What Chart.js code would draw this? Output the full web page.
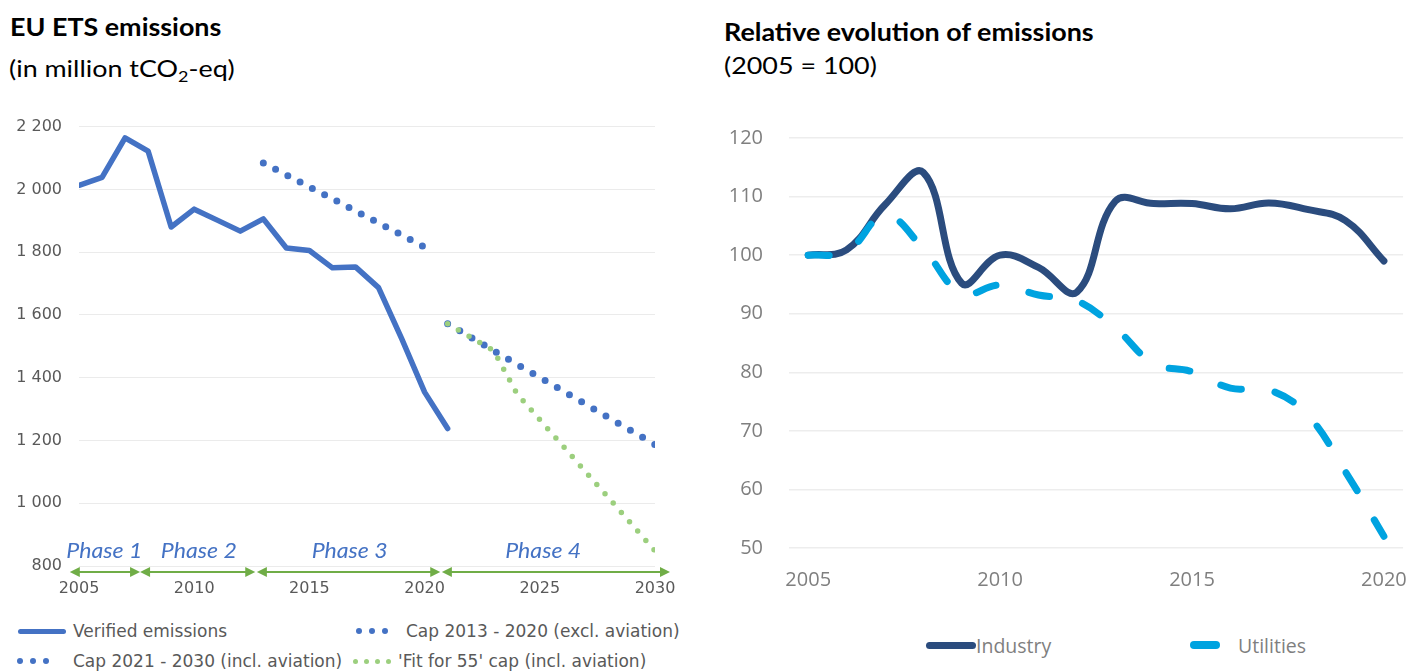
<!DOCTYPE html>
<html>
<head>
<meta charset="utf-8">
<script src="https://cdn.jsdelivr.net/npm/chart.js@4.4.1/dist/chart.umd.min.js"></script>
<style>
  html, body { margin: 0; padding: 0; background: #fff; }
  body { width: 1427px; height: 671px; position: relative; overflow: hidden; }
  .t { position: absolute; font-family: Lato, "Open Sans", sans-serif; font-size: 24px; line-height: 24px; color: #000;
       white-space: nowrap; transform: scaleX(1.12); transform-origin: 0 0; }
  .t b { font-weight: 700; }
  .t sub { font-size: 16px; vertical-align: -5px; line-height: 0; }
  canvas { position: absolute; }
  .lg { position: absolute; white-space: nowrap; display: flex; align-items: center; height: 20px; }
  .lgl { font-family: "DejaVu Sans", sans-serif; font-size: 17px; color: #595959; }
  .lgr { font-family: "Open Sans", sans-serif; font-size: 19.5px; color: #7f7f7f; }
  .sym { position: absolute; }
  .dot { position: absolute; border-radius: 50%; }
</style>
</head>
<body>
  <div class="t" style="left:10px;top:15px"><b>EU ETS emissions</b></div>
  <div class="t" style="left:9px;top:56px">(in million tCO<sub>2</sub>-eq)</div>
  <div class="t" style="left:724px;top:20px"><b>Relative evolution of emissions</b></div>
  <div class="t" style="left:724px;top:53px">(2005 = 100)</div>

  <canvas id="ets" width="700" height="520" style="left:0;top:100px;width:700px;height:520px"></canvas>
  <canvas id="rel" width="727" height="520" style="left:700px;top:100px;width:727px;height:520px"></canvas>

  <div id="legendLeft"></div>
  <div id="legendRight"></div>

<script>
// EU ETS emissions (million tCO2-eq)
const emissionYears = [2005, 2006, 2007, 2008, 2009, 2010, 2011, 2012, 2013, 2014, 2015, 2016, 2017, 2018, 2019, 2020, 2021];
const verifiedEmissions = [2013, 2038, 2164, 2122, 1880, 1937, 1902, 1867, 1906, 1813, 1805, 1750, 1753, 1687, 1525, 1354, 1238];

const cap1Years = [2013, 2014, 2015, 2016, 2017, 2018, 2019, 2020];
const cap1Values = [2084, 2046, 2008, 1970, 1931, 1893, 1855, 1816];

const cap2Years = [2021, 2022, 2023, 2024, 2025, 2026, 2027, 2028, 2029, 2030];
const cap2Values = [1572, 1529, 1486, 1443, 1401, 1358, 1315, 1272, 1230, 1187];

const fit55Years = [2021, 2022, 2023, 2024, 2025, 2026, 2027, 2028, 2029, 2030];
const fit55Values = [1572, 1529, 1486, 1350, 1266, 1183, 1099, 1016, 932, 848];

const etsTickYears = [2005, 2010, 2015, 2020, 2025, 2030];

// Trading phases along the time axis
const phaseNames = ['Phase 1', 'Phase 2', 'Phase 3', 'Phase 4'];
const phaseStarts = [2004.6, 2007.65, 2012.72, 2020.75];
const phaseEnds = [2007.65, 2012.65, 2020.68, 2030.65];
const phaseLabelAt = [2006.1, 2010.2, 2016.75, 2025.15];

// Relative evolution (2005 = 100)
const relYears = [2005, 2006, 2007, 2008, 2009, 2010, 2011, 2012, 2013, 2014, 2015, 2016, 2017, 2018, 2019, 2020];
const industryIndex = [100, 100.9, 108.6, 114.1, 95.2, 100, 97.9, 93.7, 109.2, 108.8, 108.8, 107.9, 108.9, 107.8, 105.9, 99];
const utilitiesIndex = [100, 100.6, 106.8, 101.1, 93.5, 94.9, 93.2, 92.2, 87.6, 81.5, 80.1, 77.3, 77.0, 72.8, 63.0, 52];
const relLabels = ['Industry', 'Utilities'];

const BLUE = '#4472C4';
const GREEN_DOT = '#9ccf7e';
const NAVY = '#2b4c7e';
const CYAN = '#00a3e0';

const pts = (xs, ys) => xs.map((x, i) => ({ x, y: ys[i] }));
const spaced = v => String(v).replace(/\B(?=(\d{3})+(?!\d))/g, ' ');

const phasePlugin = {
  id: 'phases',
  afterDatasetsDraw(chart) {
    const { ctx, chartArea, scales } = chart;
    const x = scales.x;
    const y = chartArea.bottom + 6;
    ctx.save();
    phaseNames.forEach((name, i) => {
      const x0 = x.getPixelForValue(phaseStarts[i]);
      const x1 = x.getPixelForValue(phaseEnds[i]);
      ctx.strokeStyle = '#70ad47';
      ctx.fillStyle = '#70ad47';
      ctx.lineWidth = 2;
      ctx.beginPath();
      ctx.moveTo(x0 + 6, y);
      ctx.lineTo(x1 - 6, y);
      ctx.stroke();
      ctx.beginPath();
      ctx.moveTo(x0, y); ctx.lineTo(x0 + 10, y - 5); ctx.lineTo(x0 + 10, y + 5); ctx.closePath();
      ctx.fill();
      ctx.beginPath();
      ctx.moveTo(x1, y); ctx.lineTo(x1 - 10, y - 5); ctx.lineTo(x1 - 10, y + 5); ctx.closePath();
      ctx.fill();
      ctx.save();
      ctx.translate(x.getPixelForValue(phaseLabelAt[i]), chartArea.bottom - 8);
      ctx.scale(1.1, 1);
      ctx.fillStyle = BLUE;
      ctx.font = 'italic 21px Lato';
      ctx.textAlign = 'center';
      ctx.textBaseline = 'alphabetic';
      ctx.fillText(name, 0, 0);
      ctx.restore();
    });
    ctx.restore();
  }
};

const dotted = (color, width, gap) => ({
  borderColor: color, backgroundColor: color, borderWidth: width,
  borderDash: [0, gap], borderCapStyle: 'round', pointRadius: 0, tension: 0, fill: false
});

const tickFontLeft = { family: 'DejaVu Sans', size: 16 };

new Chart(document.getElementById('ets'), {
  type: 'line',
  data: {
    datasets: [
      { label: 'Verified emissions', data: pts(emissionYears, verifiedEmissions), borderColor: BLUE, backgroundColor: BLUE,
        borderWidth: 5.5, pointRadius: 0, tension: 0, borderJoinStyle: 'round', borderCapStyle: 'round', order: 3 },
      Object.assign({ label: 'Cap 2013 - 2020 (excl. aviation)', data: pts(cap1Years, cap1Values), order: 2 }, dotted(BLUE, 7, 13.8)),
      Object.assign({ label: 'Cap 2021 - 2030 (incl. aviation)', data: pts(cap2Years, cap2Values), order: 1 }, dotted(BLUE, 7, 14.1)),
      Object.assign({ label: "'Fit for 55' cap (incl. aviation)", data: pts(fit55Years, fit55Values), order: 0 }, dotted(GREEN_DOT, 5.5, 12.4))
    ]
  },
  options: {
    responsive: false, animation: false, devicePixelRatio: 1,
    layout: { padding: { top: 23, right: 45, bottom: 14, left: 0 } },
    plugins: { legend: { display: false }, tooltip: { enabled: false } },
    scales: {
      x: {
        type: 'linear', min: etsTickYears[0], max: etsTickYears[etsTickYears.length - 1],
        grid: { display: false, drawTicks: false }, border: { display: false },
        afterBuildTicks: s => { s.ticks = etsTickYears.map(v => ({ value: v })); },
        ticks: { padding: 13, color: '#595959', font: tickFontLeft, callback: v => String(v) },
        afterFit: s => { s.height = 40; }
      },
      y: {
        min: 800, max: 2200,
        grid: { color: '#ebebeb', lineWidth: 1, drawTicks: false }, border: { display: false },
        ticks: { stepSize: 200, padding: 17, color: '#595959', font: tickFontLeft, callback: v => spaced(v) },
        afterFit: s => { s.width = 79; }
      }
    }
  },
  plugins: [phasePlugin]
});

new Chart(document.getElementById('rel'), {
  type: 'line',
  data: {
    labels: relYears.map(String),
    datasets: [
      { label: relLabels[0], data: industryIndex, borderColor: NAVY, backgroundColor: NAVY, borderWidth: 7,
        pointRadius: 0, tension: 0.4, borderCapStyle: 'round', borderJoinStyle: 'round', order: 1 },
      { label: relLabels[1], data: utilitiesIndex, borderColor: CYAN, backgroundColor: CYAN, borderWidth: 7,
        borderDash: [21, 34], borderCapStyle: 'round', pointRadius: 0, tension: 0.4, order: 0 }
    ]
  },
  options: {
    responsive: false, animation: false, devicePixelRatio: 1,
    layout: { padding: { top: 35, right: 7, bottom: 22, left: 0 } },
    plugins: { legend: { display: false }, tooltip: { enabled: false } },
    scales: {
      x: {
        offset: true,
        grid: { display: false, drawTicks: false }, border: { display: false },
        ticks: {
          autoSkip: false, maxRotation: 0, padding: 20, color: '#7f7f7f', font: { family: 'Open Sans', size: 20 },
          callback(v) { const l = this.getLabelForValue(v); return Number(l) % 5 === 0 ? l : ''; }
        },
        afterFit: s => { s.height = 50; }
      },
      y: {
        min: 50, max: 120,
        grid: { color: '#ededed', lineWidth: 1.5, drawTicks: false }, border: { display: false },
        ticks: { stepSize: 10, padding: 26, color: '#7f7f7f', font: { family: 'Open Sans', size: 20 } },
        afterFit: s => { s.width = 89; }
      }
    }
  }
});

// Legends
function dots(parent, xs, cy, size, color) {
  xs.forEach(x => {
    const d = document.createElement('div');
    d.className = 'dot';
    d.style.cssText = `left:${x - size / 2}px;top:${cy - size / 2}px;width:${size}px;height:${size}px;background:${color}`;
    parent.appendChild(d);
  });
}
function bar(parent, x0, x1, cy, h, color) {
  const d = document.createElement('div');
  d.className = 'sym';
  d.style.cssText = `left:${x0}px;top:${cy - h / 2}px;width:${x1 - x0}px;height:${h}px;border-radius:${h / 2}px;background:${color}`;
  parent.appendChild(d);
}
function text(parent, cls, x, cy, s) {
  const d = document.createElement('div');
  d.className = 'lg ' + cls;
  d.style.left = x + 'px';
  d.style.top = (cy - 10) + 'px';
  d.textContent = s;
  parent.appendChild(d);
}

const L = document.getElementById('legendLeft');
bar(L, 18, 66, 631, 5, BLUE);
text(L, 'lgl', 73, 631, 'Verified emissions');
dots(L, [359, 372, 385], 631, 6, BLUE);
text(L, 'lgl', 406, 631, 'Cap 2013 - 2020 (excl. aviation)');
dots(L, [20, 33, 46], 661, 6, BLUE);
text(L, 'lgl', 73, 661, 'Cap 2021 - 2030 (incl. aviation)');
dots(L, [355, 366, 377, 388], 661, 5, GREEN_DOT);
text(L, 'lgl', 398, 661, "'Fit for 55' cap (incl. aviation)");

const R = document.getElementById('legendRight');
bar(R, 926, 976, 645, 7, NAVY);
text(R, 'lgr', 976, 645, relLabels[0]);
bar(R, 1190, 1220, 645, 8, CYAN);
text(R, 'lgr', 1238, 645, relLabels[1]);
</script>
</body>
</html>
